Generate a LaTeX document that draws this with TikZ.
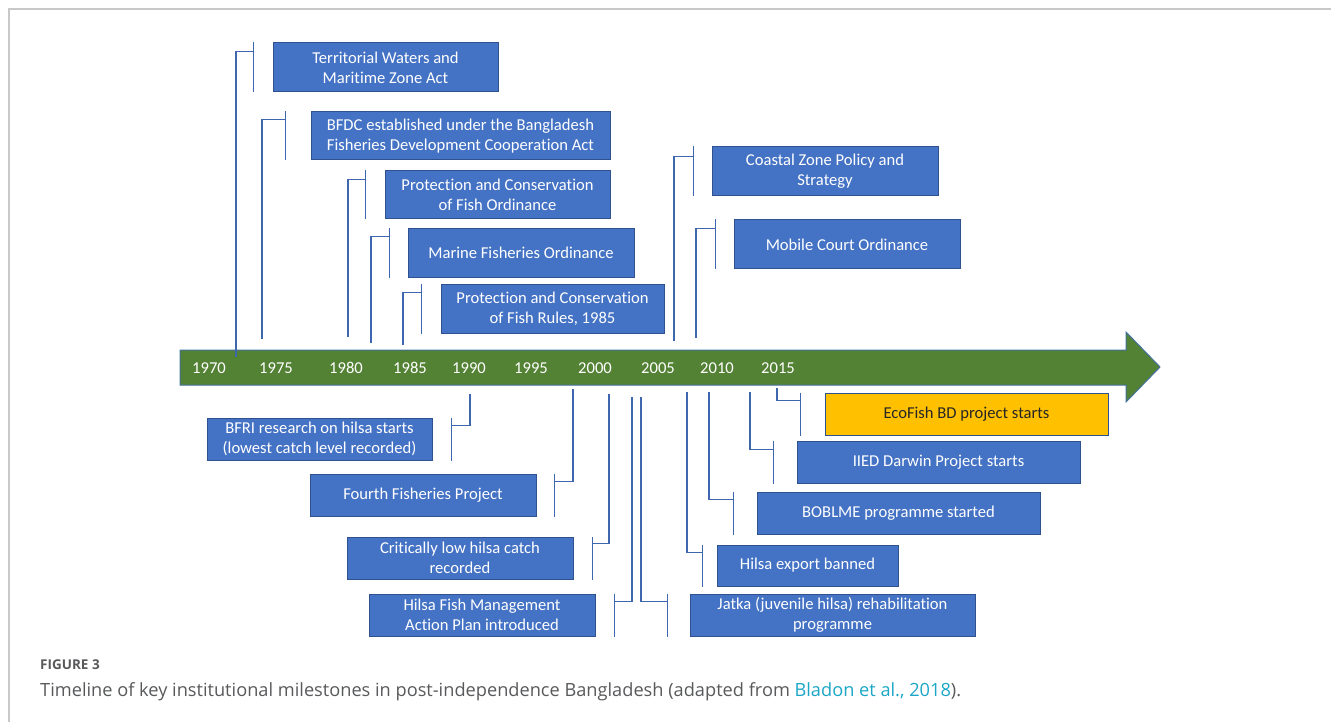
\documentclass[tikz,border=0pt]{standalone}
\usepackage{fontspec}
\usepackage{tikz}
\usepackage{xcolor}
\usetikzlibrary{calc}
\setmainfont{Carlito}[Ligatures={NoCommon}]
\newfontfamily\capfont{Open Sans}

\definecolor{boxblue}{HTML}{4472C4}
\definecolor{boxedge}{HTML}{2F528F}
\definecolor{linkblue}{HTML}{3F67B0}
\definecolor{bargreen}{HTML}{548235}
\definecolor{baredge}{HTML}{41719C}
\definecolor{ecoyellow}{HTML}{FFC000}
\definecolor{capgray}{HTML}{58595B}
\definecolor{citeteal}{HTML}{1BA6C6}
\definecolor{framegray}{HTML}{C8C8C8}

\begin{document}
\begin{tikzpicture}[x=1pt,y=-1pt]
    \tikzstyle{event}=[draw=boxedge,line width=1pt,fill=boxblue,text=white,align=center,inner sep=0pt,font=\fontsize{16.6}{20}\selectfont]
    \tikzstyle{year}=[text=white,inner sep=0pt,font=\fontsize{16.6}{18}\selectfont]
    \tikzstyle{link}=[draw=linkblue,line width=1.4pt]

    \useasboundingbox (0,0) rectangle (1331,722);
    \draw[framegray,line width=1.5pt] (9,722) -- (9,9) -- (1331,9);

    % Timeline arrow
    \draw[fill=bargreen,draw=baredge,line width=1pt] (180,350) -- (1126,350) -- (1126,332) -- (1160,367)
        -- (1126,402) -- (1126,385) -- (180,385) -- cycle;

    \node[year] (y1970) at (209,368) {1970};
    \node[year] (y1975) at (276,368) {1975};
    \node[year] (y1980) at (346,368) {1980};
    \node[year] (y1985) at (410,368) {1985};
    \node[year] (y1990) at (469,368) {1990};
    \node[year] (y1995) at (531,368) {1995};
    \node[year] (y2000) at (595,368) {2000};
    \node[year] (y2005) at (658,368) {2005};
    \node[year] (y2010) at (717,368) {2010};
    \node[year] (y2015) at (778,368) {2015};

    % Milestones above the timeline
    \node[event,minimum width=225pt,minimum height=49pt] (b1) at (385.5,67.5) {Territorial Waters and\\Maritime Zone Act};
    \node[event,minimum width=299pt,minimum height=48pt] (b2) at (460.5,136) {BFDC established under the Bangladesh\\Fisheries Development Cooperation Act};
    \node[event,minimum width=225pt,minimum height=48pt] (b3) at (497.5,195) {Protection and Conservation\\of Fish Ordinance};
    \node[event,minimum width=226pt,minimum height=48pt] (b4) at (521,253) {Marine Fisheries Ordinance};
    \node[event,minimum width=223pt,minimum height=49pt] (b5) at (552.5,308.5) {Protection and Conservation\\of Fish Rules, 1985};
    \node[event,minimum width=226pt,minimum height=49pt] (b6) at (825,171.5) {Coastal Zone Policy and\\Strategy};
    \node[event,minimum width=226pt,minimum height=49pt] (b7) at (847,244.5) {Mobile Court Ordinance};

    % Milestones below the timeline
    \node[event,minimum width=225pt,minimum height=42pt] (b8) at (319.5,439) {BFRI research on hilsa starts\\(lowest catch level recorded)};
    \node[event,minimum width=226pt,minimum height=42pt] (b9) at (423,495) {Fourth Fisheries Project};
    \node[event,minimum width=226pt,minimum height=42pt] (b10) at (460,558) {Critically low hilsa catch\\recorded};
    \node[event,minimum width=226pt,minimum height=42pt] (b11) at (482,615) {Hilsa Fish Management\\Action Plan introduced};
    \node[event,fill=ecoyellow,text=black!85,minimum width=283pt,minimum height=42pt] (b12) at (966.5,414) {EcoFish BD project starts};
    \node[event,minimum width=283pt,minimum height=42pt] (b13) at (938.5,462) {IIED Darwin Project starts};
    \node[event,minimum width=283pt,minimum height=42pt] (b14) at (898.5,513) {BOBLME programme started};
    \node[event,minimum width=181pt,minimum height=41pt] (b15) at (807.5,565.5) {Hilsa export banned};
    \node[event,minimum width=285pt,minimum height=42pt] (b16) at (832.5,615) {Jatka (juvenile hilsa) rehabilitation\\programme};

    % Anchor points on the timeline
    \coordinate (t1) at (236,357);
    \coordinate (t2) at (262,339);
    \coordinate (t3) at (348,337);
    \coordinate (t4) at (371,343);
    \coordinate (t5) at (403,345);
    \coordinate (t6) at (674,341);
    \coordinate (t7) at (696,338);
    \coordinate (t8) at (470,394);
    \coordinate (t9) at (573,389);
    \coordinate (t10) at (609,394);
    \coordinate (t11) at (632,397);
    \coordinate (t12) at (777,388);
    \coordinate (t13) at (750,392);
    \coordinate (t14) at (709,392);
    \coordinate (t15) at (687,392);
    \coordinate (t16) at (641,397);

    % Brackets next to the boxes
    \coordinate (k1) at ([xshift=-19pt]b1.north west);
    \coordinate (k2) at ([xshift=-25pt]b2.north west);
    \coordinate (k3) at ([xshift=-19pt]b3.north west);
    \coordinate (k4) at ([xshift=-18pt]b4.north west);
    \coordinate (k5) at ([xshift=-19pt]b5.north west);
    \coordinate (k6) at ([xshift=-18pt]b6.north west);
    \coordinate (k7) at ([xshift=-18pt]b7.north west);
    \coordinate (k8) at ([xshift=19pt]b8.north east);
    \coordinate (k9) at ([xshift=18pt]b9.north east);
    \coordinate (k10) at ([xshift=19pt]b10.north east);
    \coordinate (k11) at ([xshift=19pt]b11.north east);
    \coordinate (k12) at ([xshift=-24pt]b12.north west);
    \coordinate (k13) at ([xshift=-23pt]b13.north west);
    \coordinate (k14) at ([xshift=-23pt]b14.north west);
    \coordinate (k15) at ([xshift=-14pt]b15.north west);
    \coordinate (k16) at ([xshift=-22pt]b16.north west);

    % Connectors
    \draw[link] (t1) |- ([yshift=-9pt]k1);   \draw[link] (k1) -- (k1 |- b1.south);
    \draw[link] (t2) |- ([yshift=-8pt]k2);   \draw[link] (k2) -- (k2 |- b2.south);
    \draw[link] (t3) |- ([yshift=-9pt]k3);   \draw[link] (k3) -- (k3 |- b3.south);
    \draw[link] (t4) |- ([yshift=-8pt]k4);   \draw[link] (k4) -- (k4 |- b4.south);
    \draw[link] (t5) |- ([yshift=-9pt]k5);   \draw[link] (k5) -- (k5 |- b5.south);
    \draw[link] (t6) |- ([yshift=-10pt]k6);  \draw[link] (k6) -- (k6 |- b6.south);
    \draw[link] (t7) |- ([yshift=-9pt]k7);   \draw[link] (k7) -- (k7 |- b7.south);
    \draw[link] (t8) |- ([yshift=-8pt]k8);   \draw[link] (k8) -- (k8 |- b8.south);
    \draw[link] (t9) |- ([yshift=-8pt]k9);   \draw[link] (k9) -- (k9 |- b9.south);
    \draw[link] (t10) |- ([yshift=-7pt]k10); \draw[link] (k10) -- (k10 |- b10.south);
    \draw[link] (t11) |- ([yshift=-8pt]k11); \draw[link] (k11) -- (k11 |- b11.south);
    \draw[link] (t12) |- ([yshift=-8pt]k12); \draw[link] (k12) -- (k12 |- b12.south);
    \draw[link] (t13) |- ([yshift=-9pt]k13); \draw[link] (k13) -- (k13 |- b13.south);
    \draw[link] (t14) |- ([yshift=-8pt]k14); \draw[link] (k14) -- (k14 |- b14.south);
    \draw[link] (t15) |- ([yshift=-8pt]k15); \draw[link] (k15) -- (k15 |- b15.south);
    \draw[link] (t16) |- ([yshift=-8pt]k16); \draw[link] (k16) -- (k16 |- b16.south);

    % Caption
    \node[anchor=base west,inner sep=0pt,text=capgray,font=\capfont\bfseries\fontsize{13.5}{15}\selectfont] (fig) at (40,669) {FIGURE 3};
    \node[anchor=base west,inner sep=0pt,text=capgray,font=\capfont\fontsize{18.2}{20}\selectfont] (cap) at (40,696)
        {Timeline of key institutional milestones in post-independence Bangladesh (adapted from \textcolor{citeteal}{Bladon et al., 2018}).};
\end{tikzpicture}
\end{document}
